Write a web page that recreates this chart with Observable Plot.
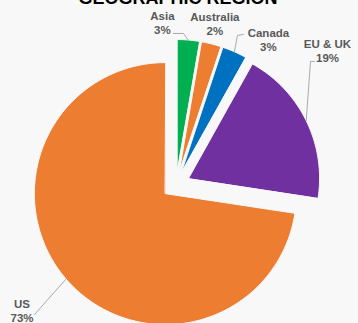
<!DOCTYPE html>
<html><head><meta charset="utf-8">
<script src="https://cdn.jsdelivr.net/npm/d3@7"></script>
<script src="https://cdn.jsdelivr.net/npm/@observablehq/plot@0.6"></script>
<style>
html,body{margin:0;padding:0;background:#f8f8f8;}
#wrap{position:relative;width:358px;height:323px;overflow:hidden;font-family:"Liberation Sans",Arial,sans-serif;}
#title{position:absolute;left:0;width:356px;top:-11px;text-align:center;font-weight:bold;font-size:18px;line-height:18px;color:#000;}
</style></head><body>
<div id="wrap"><div id="chart"></div><div id="title">GEOGRAPHIC REGION</div></div>
<script>
// data
const regions = ["Asia", "Australia", "Canada", "EU & UK", "US"];
const shares = [2.7, 2.4, 3.0, 19.3, 72.6]; // percent of total
const colors = ["#00B050", "#ED7D31", "#0070C0", "#7030A0", "#ED7D31"];

// layout (pixels / degrees clockwise from 12 o'clock)
const W = 358, H = 323, CX = 175.5, CY = 184, R = 131, EXPLODE = 14;
const labelAngle = [-4.8, 13.6, 32.5, 48.5, 230.7];
const labelDist = [162.6, 165.4, 172, 202.3, 199];
// leader line offsets relative to label centre: [end, elbow]
const leaderOffsets = [[[11, 11], [21, 11]], null, [[-25, -5], [-31, -4]], [[-13, 11], [-17, 11]], [[12.5, 4]]];

const rad = a => a * Math.PI / 180;
const pol = (x0, y0, a, r) => ({x: x0 + r * Math.sin(rad(a)), y: y0 - r * Math.cos(rad(a))});

const total = d3.sum(shares);
let cum = 0;
const slicePts = [], leaderPts = [], labels = [];
regions.forEach((region, i) => {
  const a0 = cum / total * 360;
  cum += shares[i];
  const a1 = cum / total * 360;
  const mid = (a0 + a1) / 2;
  const apex = pol(CX, CY, mid, EXPLODE);
  const color = colors[i];
  slicePts.push({region, color, ...apex});
  const n = Math.max(2, Math.ceil(a1 - a0));
  for (let k = 0; k <= n; k++) {
    const a = a0 + (a1 - a0) * k / n;
    slicePts.push({region, color, ...pol(apex.x, apex.y, a, R)});
  }
  const lc = pol(CX, CY, labelAngle[i], labelDist[i]);
  labels.push({region, x: lc.x, y: lc.y, text: region + "\n" + Math.round(shares[i]) + "%"});
  const lo = leaderOffsets[i];
  if (lo) {
    lo.forEach(([dx, dy]) => leaderPts.push({region, x: lc.x + dx, y: lc.y + dy}));
    leaderPts.push({region, ...pol(apex.x, apex.y, mid, R)});
  }
});

const chart = Plot.plot({
  width: W, height: H, margin: 0,
  x: {domain: [0, W], range: [0, W], axis: null},
  y: {domain: [0, H], range: [0, H], axis: null},
  color: {type: "identity"},
  style: {background: "#f8f8f8", fontFamily: "'Liberation Sans', Arial, sans-serif", overflow: "visible"},
  marks: [
    Plot.line(slicePts, {x: "x", y: "y", z: "region", fill: "color", stroke: "#f8f8f8", strokeWidth: 1, curve: "linear-closed"}),
    Plot.line(leaderPts, {x: "x", y: "y", z: "region", stroke: "#a0a0a0", strokeWidth: 0.9}),
    Plot.text(labels, {x: "x", y: "y", text: "text", fontWeight: "bold", fontSize: 11.5, fill: "#595959", lineHeight: 1.2})
  ]
});
document.getElementById("chart").appendChild(chart);
</script>
</body></html>
